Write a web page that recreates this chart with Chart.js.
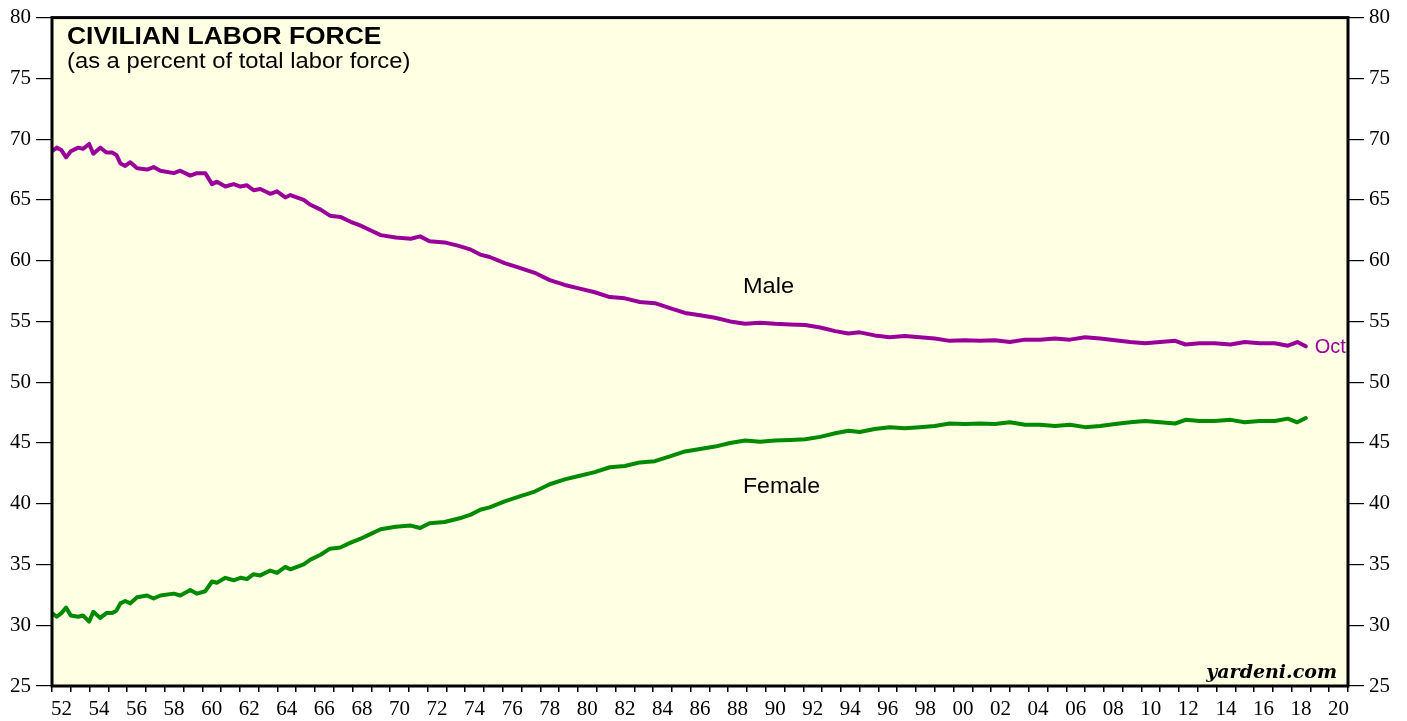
<!DOCTYPE html>
<html>
<head>
<meta charset="utf-8">
<script src="https://cdn.jsdelivr.net/npm/chart.js@4.4.1/dist/chart.umd.min.js"></script>
<style>
html,body{margin:0;padding:0;background:#fff;}
#wrap{width:1407px;height:721px;}
</style>
</head>
<body>
<div id="wrap"><canvas id="c" width="1407" height="721"></canvas></div>
<script>
// Dates as decimal years (monthly series sampled from the chart)
const dates = [1952.0,1952.25,1952.5,1952.75,1953.0,1953.4,1953.65,1953.98,1954.2,1954.57,1954.9,1955.2,1955.43,1955.64,1955.9,1956.17,1956.53,1957.06,1957.41,1957.77,1958.48,1958.83,1959.36,1959.72,1960.16,1960.52,1960.78,1961.23,1961.67,1962.03,1962.38,1962.73,1963.09,1963.62,1963.98,1964.42,1964.69,1965.4,1965.76,1966.3,1966.8,1967.35,1967.9,1968.4,1968.95,1969.5,1970.3,1971.1,1971.6,1972.1,1972.9,1973.7,1974.3,1974.8,1975.3,1976.1,1976.9,1977.7,1978.5,1979.3,1980.1,1980.9,1981.7,1982.5,1983.3,1984.1,1984.9,1985.7,1986.5,1987.3,1988.1,1988.9,1989.7,1990.5,1991.3,1992.1,1992.9,1993.7,1994.4,1995.0,1995.8,1996.6,1997.4,1998.2,1999.0,1999.8,2000.6,2001.4,2002.2,2003.0,2003.8,2004.6,2005.4,2006.2,2007.0,2007.8,2008.6,2009.4,2010.2,2011.0,2011.8,2012.35,2013.1,2013.9,2014.75,2015.5,2016.3,2017.1,2017.8,2018.3,2018.75];

const maleShare = [69.0,69.3,69.1,68.5,69.0,69.3,69.2,69.6,68.8,69.3,68.9,68.9,68.7,68.0,67.8,68.1,67.6,67.5,67.7,67.4,67.2,67.4,67.0,67.2,67.2,66.3,66.5,66.1,66.3,66.1,66.2,65.8,65.9,65.5,65.7,65.2,65.4,65.0,64.6,64.2,63.7,63.6,63.2,62.9,62.5,62.1,61.9,61.8,62.0,61.6,61.5,61.2,60.9,60.5,60.3,59.8,59.4,59.0,58.4,58.0,57.7,57.4,57.0,56.9,56.6,56.5,56.1,55.7,55.5,55.3,55.0,54.8,54.9,54.8,54.75,54.7,54.5,54.2,54.0,54.1,53.85,53.7,53.8,53.7,53.6,53.4,53.45,53.4,53.45,53.3,53.5,53.5,53.6,53.5,53.7,53.6,53.45,53.3,53.2,53.3,53.4,53.1,53.2,53.2,53.1,53.3,53.2,53.2,53.0,53.3,52.95];

const femaleShare = [31.0,30.7,31.0,31.45,30.8,30.7,30.8,30.3,31.1,30.6,31.0,31.0,31.2,31.8,32.0,31.8,32.3,32.45,32.2,32.45,32.6,32.45,32.9,32.6,32.8,33.6,33.5,33.9,33.7,33.9,33.8,34.2,34.1,34.5,34.3,34.8,34.6,35.0,35.4,35.8,36.3,36.4,36.8,37.1,37.5,37.9,38.1,38.2,38.0,38.4,38.5,38.8,39.1,39.5,39.7,40.2,40.6,41.0,41.6,42.0,42.3,42.6,43.0,43.1,43.4,43.5,43.9,44.3,44.5,44.7,45.0,45.2,45.1,45.2,45.25,45.3,45.5,45.8,46.0,45.9,46.15,46.3,46.2,46.3,46.4,46.6,46.55,46.6,46.55,46.7,46.5,46.5,46.4,46.5,46.3,46.4,46.55,46.7,46.8,46.7,46.6,46.9,46.8,46.8,46.9,46.7,46.8,46.8,47.0,46.7,47.05];

const xMin = 1952, xMax = 2021;
const yMin = 25, yMax = 80, yStep = 5;
const xLabelYears = [1952,1954,1956,1958,1960,1962,1964,1966,1968,1970,1972,1974,1976,1978,1980,1982,1984,1986,1988,1990,1992,1994,1996,1998,2000,2002,2004,2006,2008,2010,2012,2014,2016,2018,2020];

const title = 'CIVILIAN LABOR FORCE';
const subtitle = '(as a percent of total labor force)';
const maleLabel = 'Male';
const femaleLabel = 'Female';
const lastLabel = 'Oct';
const credit = 'yardeni.com';

const MALE_COLOR = '#990099';
const FEMALE_COLOR = '#008a00';
const BG = '#FFFFE4';

const toPts = arr => arr.map((v, i) => ({x: dates[i], y: v}));

const tickFont = {family: '"Liberation Serif", "Times New Roman", serif', size: 21};

function stretchedText(ctx, text, x, y, sx) {
  ctx.save();
  ctx.translate(x, y);
  ctx.scale(sx, 1);
  ctx.fillText(text, 0, 0);
  ctx.restore();
}

const bgPlugin = {
  id: 'bg',
  beforeDraw(chart) {
    const {ctx, chartArea: a} = chart;
    ctx.save();
    ctx.fillStyle = '#ffffff';
    ctx.fillRect(0, 0, chart.width, chart.height);
    ctx.fillStyle = BG;
    ctx.fillRect(a.left, a.top, a.right - a.left, a.bottom - a.top);
    ctx.restore();
  },
  afterDraw(chart) {
    const {ctx, chartArea: a, scales} = chart;
    ctx.save();
    // frame
    ctx.strokeStyle = '#000';
    ctx.lineWidth = 3;
    ctx.strokeRect(a.left, a.top, a.right - a.left, a.bottom - a.top);
    // title
    ctx.fillStyle = '#000';
    ctx.textBaseline = 'alphabetic';
    ctx.textAlign = 'left';
    ctx.font = 'bold 23px "Liberation Sans", Arial, sans-serif';
    stretchedText(ctx, title, 67, 44, 1.15);
    ctx.font = '22px "Liberation Sans", Arial, sans-serif';
    stretchedText(ctx, subtitle, 67, 68, 1.08);
    // series labels
    ctx.font = '22px "Liberation Sans", Arial, sans-serif';
    stretchedText(ctx, maleLabel, 743, 293, 1.07);
    stretchedText(ctx, femaleLabel, 743, 493, 1.05);
    // last point label
    const xs = scales.x, ys = scales.y;
    const n = dates.length - 1;
    ctx.fillStyle = MALE_COLOR;
    ctx.font = '20px "Liberation Sans", Arial, sans-serif';
    ctx.textBaseline = 'middle';
    ctx.fillText(lastLabel, xs.getPixelForValue(dates[n]) + 9, ys.getPixelForValue(maleShare[n]) + 1);
    // credit
    ctx.fillStyle = '#000';
    ctx.textBaseline = 'alphabetic';
    ctx.textAlign = 'right';
    ctx.font = 'italic bold 19px "DejaVu Serif", serif';
    ctx.fillText(credit, 1337, 678);
    ctx.restore();
  }
};

new Chart(document.getElementById('c'), {
  type: 'line',
  data: {
    datasets: [
      {label: 'Male', data: toPts(maleShare), borderColor: MALE_COLOR, borderWidth: 4, pointRadius: 0, tension: 0, borderJoinStyle: 'round', borderCapStyle: 'round', yAxisID: 'y'},
      {label: 'Female', data: toPts(femaleShare), borderColor: FEMALE_COLOR, borderWidth: 4, pointRadius: 0, tension: 0, borderJoinStyle: 'round', borderCapStyle: 'round', yAxisID: 'y'}
    ]
  },
  options: {
    responsive: false,
    animation: false,
    devicePixelRatio: 1,
    layout: {padding: {top: 15, left: 0, right: 0, bottom: 0}},
    plugins: {legend: {display: false}, tooltip: {enabled: false}},
    scales: {
      x: {
        type: 'linear', position: 'bottom', min: xMin, max: xMax,
        afterFit(s) { s.height = 35; },
        grid: {display: true, drawOnChartArea: false, drawTicks: true, tickLength: 6, color: '#000', lineWidth: 1.5},
        border: {display: false},
        ticks: {
          stepSize: 1, autoSkip: false, maxRotation: 0, minRotation: 0, padding: 5,
          labelOffset: 9.4, color: '#000', font: tickFont,
          callback: v => xLabelYears.includes(v) ? String(v % 100).padStart(2, '0') : ''
        }
      },
      y: {
        type: 'linear', position: 'left', min: yMin, max: yMax,
        afterFit(s) { s.width = 52; },
        grid: {display: true, drawOnChartArea: false, drawTicks: true, tickLength: 16, color: '#000', lineWidth: 1.2},
        border: {display: false},
        ticks: {stepSize: yStep, padding: 5, color: '#000', font: tickFont}
      },
      y2: {
        type: 'linear', position: 'right', min: yMin, max: yMax,
        afterFit(s) { s.width = 59; },
        grid: {display: true, drawOnChartArea: false, drawTicks: true, tickLength: 16, color: '#000', lineWidth: 1.2},
        border: {display: false},
        ticks: {stepSize: yStep, padding: 5, color: '#000', font: tickFont}
      }
    }
  },
  plugins: [bgPlugin]
});
</script>
</body>
</html>
